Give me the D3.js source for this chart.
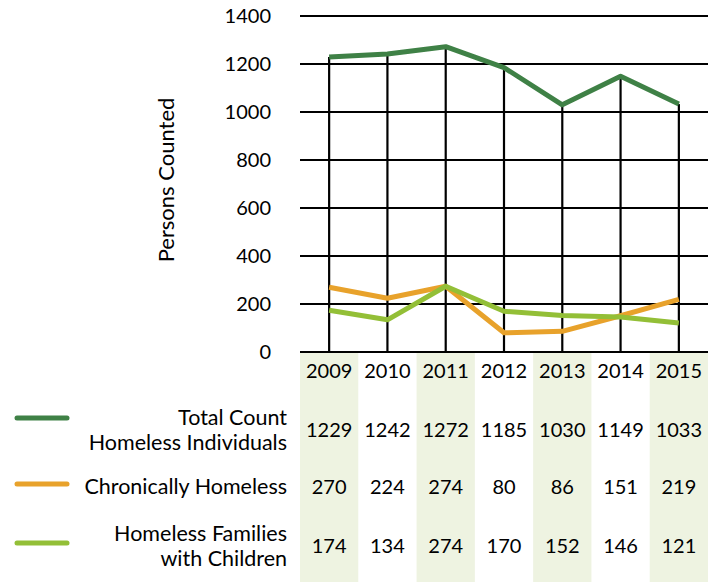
<!DOCTYPE html>
<html>
<head>
<meta charset="utf-8">
<script src="https://cdn.jsdelivr.net/npm/d3@7"></script>
<style>
  html, body { margin: 0; padding: 0; background: #fff; }
  svg text { font-family: Lato, "Open Sans", sans-serif; fill: #000; }
</style>
</head>
<body>
<svg id="chart" width="714" height="582"></svg>
<script>
// Point-in-time homeless counts by year
const years = ["2009", "2010", "2011", "2012", "2013", "2014", "2015"];
const totalIndividuals = [1229, 1242, 1272, 1185, 1030, 1149, 1033];
const chronicallyHomeless = [270, 224, 274, 80, 86, 151, 219];
const familiesWithChildren = [174, 134, 274, 170, 152, 146, 121];
const yTicks = [0, 200, 400, 600, 800, 1000, 1200, 1400];

const seriesNames = [["Total Count", "Homeless Individuals"], ["Chronically Homeless"], ["Homeless Families", "with Children"]];
const seriesValues = [totalIndividuals, chronicallyHomeless, familiesWithChildren];
const seriesColors = ["#3f8146", "#e8a22b", "#93bf37"];

const svg = d3.select("#chart");
const plotLeft = 300, plotRight = 708, plotTop = 16, plotBottom = 352;

const x = d3.scaleBand().domain(years).range([plotLeft, plotRight]).padding(0);
const y = d3.scaleLinear().domain([0, 1400]).range([plotBottom, plotTop]);
const xc = d => x(d) + x.bandwidth() / 2;

// Shaded alternate columns of the data table
svg.append("g").selectAll("rect")
  .data(years.filter((d, i) => i % 2 === 0))
  .join("rect")
  .attr("x", d => x(d)).attr("y", plotBottom)
  .attr("width", x.bandwidth()).attr("height", 582 - plotBottom)
  .attr("fill", "#eef3e1");

// Horizontal gridlines
svg.append("g").selectAll("line")
  .data(yTicks)
  .join("line")
  .attr("x1", plotLeft).attr("x2", plotRight)
  .attr("y1", d => y(d)).attr("y2", d => y(d))
  .attr("stroke", "#000").attr("stroke-width", 2.2);

// Drop lines from the top series to the baseline
svg.append("g").selectAll("line")
  .data(years)
  .join("line")
  .attr("x1", d => xc(d)).attr("x2", d => xc(d))
  .attr("y1", (d, i) => y(totalIndividuals[i])).attr("y2", plotBottom)
  .attr("stroke", "#000").attr("stroke-width", 2.2);

// Y axis labels
const yAxis = d3.axisLeft(y).tickValues(yTicks).tickSize(0).tickPadding(0).tickFormat(d3.format("d"));
const ya = svg.append("g").attr("transform", "translate(271,0)").call(yAxis);
ya.select(".domain").remove();
ya.selectAll("text").attr("font-size", 20).attr("font-family", "Lato, sans-serif").attr("fill", "#000");

svg.append("text")
  .attr("transform", "translate(174,180) rotate(-90)")
  .attr("text-anchor", "middle")
  .attr("font-size", 22)
  .text("Persons Counted");

// Series lines
const line = d3.line().x((d, i) => xc(years[i])).y(d => y(d));
svg.append("g").selectAll("path")
  .data(seriesValues)
  .join("path")
  .attr("d", d => line(d))
  .attr("fill", "none")
  .attr("stroke", (d, i) => seriesColors[i])
  .attr("stroke-width", 5)
  .attr("stroke-linejoin", "round");

// Data table: year header row
svg.append("g").selectAll("text")
  .data(years)
  .join("text")
  .attr("x", d => xc(d)).attr("y", 378)
  .attr("text-anchor", "middle").attr("font-size", 20)
  .text(d => d);

// Data table: value rows and legend keys
const rowY = [430, 487, 546];
seriesValues.forEach((vals, r) => {
  svg.append("g").selectAll("text")
    .data(vals)
    .join("text")
    .attr("x", (d, i) => xc(years[i])).attr("y", rowY[r] + 7)
    .attr("text-anchor", "middle").attr("font-size", 20)
    .text(d => d);

  const names = seriesNames[r];
  const lh = 25;
  names.forEach((n, k) => {
    svg.append("text")
      .attr("x", 287)
      .attr("y", rowY[r] + 7 + (k - (names.length - 1) / 2) * lh)
      .attr("text-anchor", "end").attr("font-size", 21.5)
      .text(n);
  });

  const keyY = [418, 484, 543][r];
  svg.append("line")
    .attr("x1", 17).attr("x2", 67)
    .attr("y1", keyY).attr("y2", keyY)
    .attr("stroke", seriesColors[r]).attr("stroke-width", 5)
    .attr("stroke-linecap", "round");
});
</script>
</body>
</html>
